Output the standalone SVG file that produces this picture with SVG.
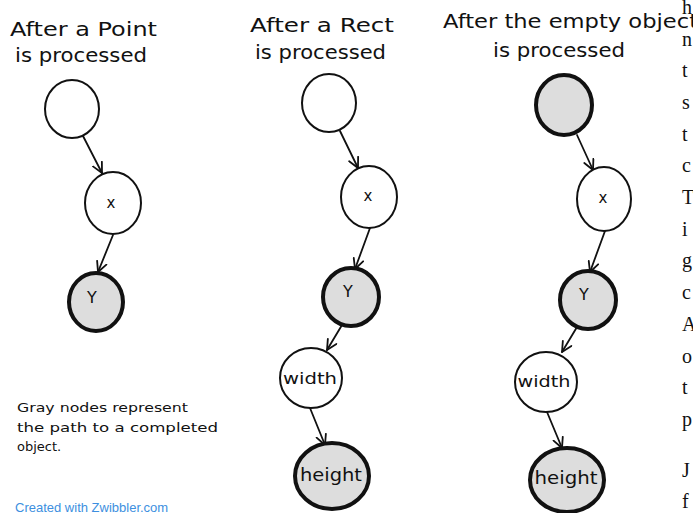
<svg xmlns="http://www.w3.org/2000/svg" width="693" height="513" viewBox="0 0 693 513">
  <style>
    .hand { font-family: "DejaVu Sans", "Noto Sans", sans-serif; fill: #111; }
    .title { font-size: 19px; }
    .note { font-size: 13px; }
    .lbl { text-anchor: middle; }
    .open { fill: #fff; stroke: #111; stroke-width: 2; }
    .done { fill: #ddd; stroke: #111; stroke-width: 4; }
    .edge { fill: none; stroke: #111; stroke-width: 1.8; stroke-linecap: round; }
    .page { font-family: "Liberation Serif", "Times New Roman", serif; font-size: 20px; fill: #111; }
    .credit { font-family: "Liberation Sans", Arial, sans-serif; font-size: 13px; fill: #3d8fe0; }
  </style>
  <defs>
    <marker id="arrow" viewBox="0 0 12 12" refX="11" refY="6" markerWidth="12" markerHeight="12" orient="auto" markerUnits="userSpaceOnUse">
      <path d="M1,1 L11,6 L1,11" fill="none" stroke="#111" stroke-width="1.8" stroke-linecap="round" stroke-linejoin="round"/>
    </marker>
  </defs>
  <rect width="693" height="513" fill="#fff"/>

  <!-- column titles -->
  <g id="titles" class="hand title">
    <text x="10" y="36" textLength="147" lengthAdjust="spacingAndGlyphs">After a Point</text>
    <text x="15" y="62" textLength="132" lengthAdjust="spacingAndGlyphs">is processed</text>
    <text x="250" y="32" textLength="144" lengthAdjust="spacingAndGlyphs">After a Rect</text>
    <text x="255" y="59" textLength="131" lengthAdjust="spacingAndGlyphs">is processed</text>
    <text x="443" y="28" textLength="255" lengthAdjust="spacingAndGlyphs">After the empty object</text>
    <text x="493" y="57" textLength="132" lengthAdjust="spacingAndGlyphs">is processed</text>
  </g>

  <!-- connectors -->
  <g id="connectors" class="edge">
    <line x1="83" y1="136" x2="102" y2="173" marker-end="url(#arrow)"/>
    <line x1="113" y1="235" x2="98" y2="272" marker-end="url(#arrow)"/>
    <line x1="340" y1="131" x2="358" y2="168" marker-end="url(#arrow)"/>
    <line x1="370" y1="228" x2="355" y2="269" marker-end="url(#arrow)"/>
    <line x1="342" y1="325" x2="327" y2="350" marker-end="url(#arrow)"/>
    <line x1="310" y1="408" x2="325" y2="445" marker-end="url(#arrow)"/>
    <line x1="577" y1="135" x2="593" y2="170" marker-end="url(#arrow)"/>
    <line x1="605" y1="231" x2="590" y2="272" marker-end="url(#arrow)"/>
    <line x1="577" y1="327" x2="562" y2="352" marker-end="url(#arrow)"/>
    <line x1="547" y1="412" x2="562" y2="448" marker-end="url(#arrow)"/>
  </g>

  <!-- Point tree -->
  <g id="p-root"><ellipse class="open" cx="72" cy="109" rx="27" ry="29"/></g>
  <g id="p-x"><ellipse class="open" cx="113" cy="203" rx="28" ry="31"/><text class="hand lbl" x="111" y="208" font-size="15">x</text></g>
  <g id="p-y"><ellipse class="done" cx="96" cy="302" rx="27" ry="29"/><text class="hand lbl" x="92" y="303" font-size="16">Y</text></g>

  <!-- Rect tree -->
  <g id="r-root"><ellipse class="open" cx="329" cy="103" rx="27" ry="29"/></g>
  <g id="r-x"><ellipse class="open" cx="369" cy="197" rx="28" ry="31"/><text class="hand lbl" x="368" y="201" font-size="15">x</text></g>
  <g id="r-y"><ellipse class="done" cx="351" cy="297" rx="28" ry="29"/><text class="hand lbl" x="348" y="297" font-size="16">Y</text></g>
  <g id="r-width"><ellipse class="open" cx="311" cy="378" rx="31" ry="30"/><text class="hand lbl" x="310" y="384" font-size="16" textLength="54" lengthAdjust="spacingAndGlyphs">width</text></g>
  <g id="r-height"><ellipse class="done" cx="332" cy="476" rx="37" ry="33"/><text class="hand lbl" x="331" y="481" font-size="18" textLength="62" lengthAdjust="spacingAndGlyphs">height</text></g>

  <!-- empty object tree -->
  <g id="e-root"><ellipse class="done" cx="564" cy="105" rx="28" ry="30"/></g>
  <g id="e-x"><ellipse class="open" cx="604" cy="199" rx="27" ry="32"/><text class="hand lbl" x="603" y="203" font-size="15">x</text></g>
  <g id="e-y"><ellipse class="done" cx="588" cy="300" rx="28" ry="29"/><text class="hand lbl" x="584" y="300" font-size="16">Y</text></g>
  <g id="e-width"><ellipse class="open" cx="546" cy="382" rx="31" ry="30"/><text class="hand lbl" x="544" y="387" font-size="16" textLength="53" lengthAdjust="spacingAndGlyphs">width</text></g>
  <g id="e-height"><ellipse class="done" cx="567" cy="480" rx="37" ry="32"/><text class="hand lbl" x="566" y="484" font-size="18" textLength="63" lengthAdjust="spacingAndGlyphs">height</text></g>

  <!-- legend -->
  <g id="legend" class="hand note">
    <text x="17" y="412" textLength="171" lengthAdjust="spacingAndGlyphs">Gray nodes represent</text>
    <text x="17" y="432" textLength="201" lengthAdjust="spacingAndGlyphs">the path to a completed</text>
    <text x="17" y="451">object.</text>
  </g>

  <text class="credit" x="15" y="512">Created with Zwibbler.com</text>

  <!-- edge of the neighbouring page column -->
  <g id="page-text" class="page">
    <text x="682" y="14">h</text>
    <text x="682" y="46">n</text>
    <text x="682" y="77">t</text>
    <text x="682" y="109">s</text>
    <text x="682" y="141">t</text>
    <text x="682" y="172">c</text>
    <text x="682" y="204">T</text>
    <text x="682" y="236">i</text>
    <text x="682" y="267">g</text>
    <text x="682" y="299">c</text>
    <text x="682" y="331">A</text>
    <text x="682" y="363">o</text>
    <text x="682" y="394">t</text>
    <text x="682" y="426">p</text>
    <text x="682" y="477">J</text>
    <text x="682" y="508">f</text>
  </g>
</svg>
